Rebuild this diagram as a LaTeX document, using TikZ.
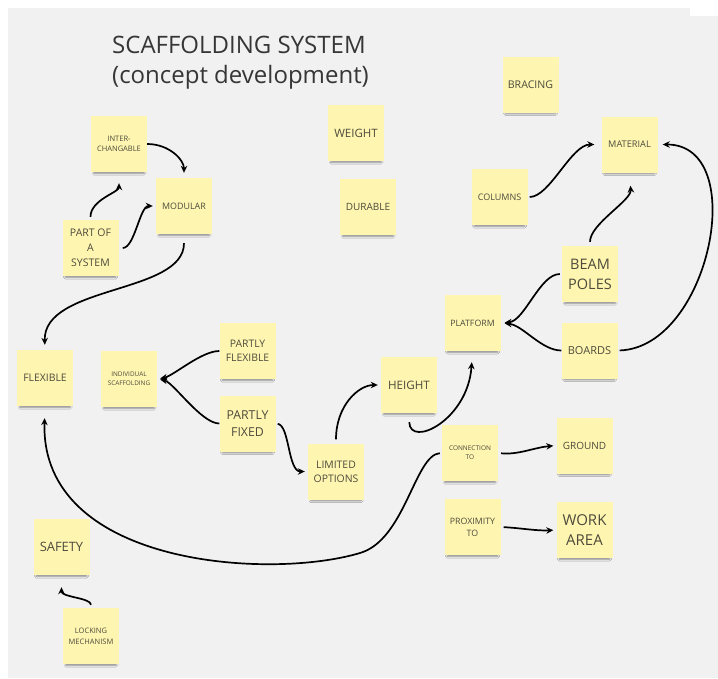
\documentclass[tikz,border=0pt]{standalone}
\usepackage{fontspec}
\setmainfont{Open Sans}
\usetikzlibrary{arrows.meta}
\usetikzlibrary{shadows.blur}

\definecolor{board}{HTML}{F1F1F1}
\definecolor{sticky}{HTML}{FEF6B0}
\definecolor{ink}{HTML}{4D4A3C}
\definecolor{titleink}{HTML}{363636}
\newcommand{\sz}[2]{\fontsize{#1}{#2}\selectfont}

\begin{document}
\begin{tikzpicture}[x=1pt,y=-1pt,
  note/.style={fill=sticky, text=ink, minimum width=56pt, minimum height=56pt, inner sep=0pt, align=center,
    blur shadow={shadow xshift=0pt, shadow yshift=-4.5pt, shadow scale=0.9, shadow opacity=45, shadow blur radius=2pt}},
  title/.style={text=titleink, inner sep=0pt, font=\sz{24}{30}},
  link/.style={-{Stealth[length=7pt,width=6.5pt]}, line width=1.7pt, black}]

\useasboundingbox (0,0) rectangle (718,678);
\fill[white] (0,0) rectangle (718,678);
\fill[board] (8,8) rectangle (718,678);
\fill[white] (690,8) rectangle (718,16);

\node[title, anchor=base west] (heading) at (112,53) {SCAFFOLDING SYSTEM};
\node[title, anchor=base west] (subheading) at (112,83) {(concept development)};

% notes
\node[note, font=\sz{7.5}{10.5}] (inter) at (119,144) {INTER-\\CHANGABLE};
\node[note, font=\sz{8.9}{12}] (modular) at (184,206) {MODULAR};
\node[note, font=\sz{10.5}{15}] (partof) at (90.5,248) {PART OF\\A\\SYSTEM};
\node[note, font=\sz{11.5}{15}] (weight) at (356,133) {WEIGHT};
\node[note, font=\sz{10}{13}] (durable) at (368,207) {DURABLE};
\node[note, font=\sz{10.6}{14}] (bracing) at (530.5,84.5) {BRACING};
\node[note, font=\sz{9.2}{12}] (material) at (629.5,144.5) {MATERIAL};
\node[note, font=\sz{9}{12}] (columns) at (499.5,197) {COLUMNS};
\node[note, font=\sz{14.5}{20}] (beam) at (590,274) {BEAM\\POLES};
\node[note, font=\sz{8.8}{12}] (platform) at (472.5,323) {PLATFORM};
\node[note, font=\sz{11}{14}] (boards) at (589.5,350.5) {BOARDS};
\node[note, font=\sz{11.6}{15}] (height) at (409,385) {HEIGHT};
\node[note, font=\sz{6.5}{9}] (connection) at (470,453) {CONNECTION\\TO};
\node[note, font=\sz{10}{13}] (ground) at (584.5,445.5) {GROUND};
\node[note, font=\sz{8.8}{12}] (proximity) at (472.5,527) {PROXIMITY\\TO};
\node[note, font=\sz{15}{20}] (workarea) at (584.5,530) {WORK\\AREA};
\node[note, font=\sz{10.4}{14}] (flexible) at (45,378) {FLEXIBLE};
\node[note, font=\sz{6.4}{9}] (individual) at (129,379) {INDIVIDUAL\\SCAFFOLDING};
\node[note, font=\sz{10.4}{14.5}] (partlyflex) at (247.5,351) {PARTLY\\FLEXIBLE};
\node[note, font=\sz{12.3}{17.5}] (partlyfixed) at (247.5,423.5) {PARTLY\\FIXED};
\node[note, font=\sz{10.4}{14.3}] (limited) at (336,471.5) {LIMITED\\OPTIONS};
\node[note, font=\sz{12.9}{16}] (safety) at (61.5,547) {SAFETY};
\node[note, font=\sz{7.5}{10.7}] (locking) at (91,636) {LOCKING\\MECHANISM};

\coordinate (dip) at (360,553);

% links
\draw[link, shorten >=5pt] (inter.east) .. controls +(22,0) and +(0,-18) .. (modular.north);
\draw[link, shorten <=3pt, shorten >=11pt] (partof.north) .. controls +(0,-20) and +(0,20) .. (inter.south);
\draw[link, shorten <=4pt, shorten >=3pt] (partof.east) .. controls +(16,0) and +(-16,0) .. (modular.west);
\draw[link, shorten <=9pt, shorten >=5pt] (modular.south) .. controls +(0,60) and +(-2,-65) .. (flexible.north);
\draw[link, shorten >=3pt] (partlyflex.west) .. controls +(-18,0) and +(16,-3) .. (individual.east);
\draw[link, shorten >=3pt] (partlyfixed.west) .. controls +(-18,0) and +(16,3) .. (individual.east);
\draw[link, shorten <=2pt, shorten >=3pt] (partlyfixed.east) .. controls +(14,2) and +(-20,0) .. (limited.west);
\draw[link, shorten <=4pt, shorten >=3pt] (limited.north) .. controls +(0,-38) and +(-22,0) .. (height.west);
\draw[link, shorten <=9pt, shorten >=11pt] (height.south) .. controls +(1,35) and +(-4.5,69) .. (platform.south);
\draw[link, shorten <=2pt, shorten >=4pt] (beam.west) .. controls +(-22,0) and +(24,-2) .. (platform.east);
\draw[link, shorten >=4pt] (boards.west) .. controls +(-20,0) and +(22,2) .. (platform.east);
\draw[link, shorten <=4pt, shorten >=13pt] (beam.north) .. controls +(0,-22) and +(2,28) .. (material.south);
\draw[link, shorten <=2pt, shorten >=7pt] (columns.east) .. controls +(22,0) and +(-30,0) .. (material.west);
\draw[link, shorten <=2pt, shorten >=5pt] (boards.east) .. controls +(92,-3) and +(93,0) .. (material.east);
\draw[link, shorten <=2pt, shorten >=12pt] (connection.west) .. controls +(-27,2) and +(45,-13) .. (dip)
  .. controls +(-90,27) and +(-5,160) .. (flexible.south);
\draw[link, shorten <=3pt, shorten >=3pt] (connection.east) .. controls +(20,2) and +(-22,2) .. (ground.west);
\draw[link, shorten <=3pt, shorten >=3pt] (proximity.east) .. controls +(20,1) and +(-20,1) .. (workarea.west);
\draw[link, shorten <=3pt, shorten >=12pt] (locking.north) .. controls +(0,-10) and +(0,22) .. (safety.south);

\end{tikzpicture}
\end{document}
